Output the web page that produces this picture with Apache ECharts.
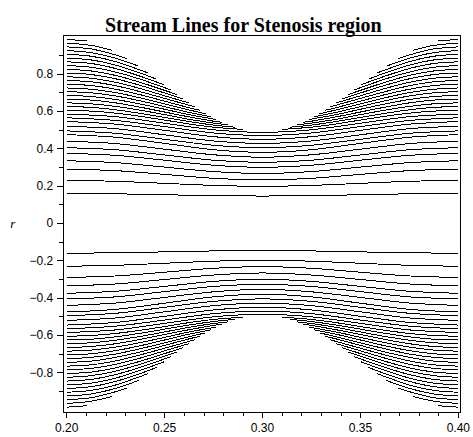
<!DOCTYPE html>
<html>
<head>
<meta charset="utf-8">
<script src="https://cdn.jsdelivr.net/npm/echarts@6/dist/echarts.min.js"></script>
<style>
  html, body { margin: 0; padding: 0; background: #fff; }
  #chart { width: 473px; height: 437px; }
  #chart svg path { shape-rendering: crispEdges; }
</style>
</head>
<body>
<div id="chart"></div>
<script>
// Axis ticks and labels
const zLabelTicks = [0.20, 0.25, 0.30, 0.35, 0.40];
const zMinorTicks = [0.21, 0.22, 0.23, 0.24, 0.26, 0.27, 0.28, 0.29, 0.31, 0.32, 0.33, 0.34, 0.36, 0.37, 0.38, 0.39];
const rLabelTicks = [-0.8, -0.6, -0.4, -0.2, 0, 0.2, 0.4, 0.6, 0.8];
const rMinorTicks = [-0.9, -0.7, -0.5, -0.3, -0.1, 0.1, 0.3, 0.5, 0.7, 0.9];

// Stream lines that run right through the throat: r at each z of zThrough
const zThrough = [0.200, 0.225, 0.250, 0.275, 0.300, 0.325, 0.350, 0.375, 0.400];
const upperThrough = [
  [0.160, 0.158, 0.153, 0.148, 0.146, 0.148, 0.153, 0.158, 0.160],
  [0.230, 0.225, 0.214, 0.203, 0.198, 0.203, 0.214, 0.225, 0.230],
  [0.290, 0.282, 0.262, 0.241, 0.233, 0.241, 0.262, 0.282, 0.290],
  [0.335, 0.325, 0.301, 0.277, 0.267, 0.277, 0.301, 0.325, 0.335],
  [0.375, 0.364, 0.338, 0.311, 0.300, 0.311, 0.338, 0.364, 0.375],
  [0.405, 0.394, 0.366, 0.338, 0.327, 0.338, 0.366, 0.394, 0.405],
  [0.440, 0.427, 0.397, 0.367, 0.354, 0.367, 0.397, 0.427, 0.440],
  [0.475, 0.461, 0.428, 0.394, 0.380, 0.394, 0.428, 0.461, 0.475],
  [0.495, 0.482, 0.450, 0.418, 0.405, 0.418, 0.450, 0.482, 0.495],
  [0.520, 0.507, 0.474, 0.441, 0.428, 0.441, 0.474, 0.507, 0.520],
  [0.545, 0.531, 0.498, 0.464, 0.450, 0.464, 0.498, 0.531, 0.545],
  [0.565, 0.551, 0.518, 0.484, 0.470, 0.484, 0.518, 0.551, 0.565],
  [0.585, 0.571, 0.536, 0.501, 0.487, 0.501, 0.536, 0.571, 0.585]
];
const lowerThrough = [
  [-0.160, -0.158, -0.153, -0.148, -0.144, -0.148, -0.153, -0.158, -0.160],
  [-0.230, -0.225, -0.214, -0.203, -0.197, -0.203, -0.214, -0.225, -0.230],
  [-0.290, -0.282, -0.262, -0.241, -0.232, -0.241, -0.262, -0.282, -0.290],
  [-0.335, -0.325, -0.301, -0.277, -0.266, -0.277, -0.301, -0.325, -0.335],
  [-0.375, -0.364, -0.338, -0.311, -0.300, -0.311, -0.338, -0.364, -0.375],
  [-0.405, -0.394, -0.366, -0.338, -0.327, -0.338, -0.366, -0.394, -0.405],
  [-0.440, -0.427, -0.397, -0.367, -0.354, -0.367, -0.397, -0.427, -0.440],
  [-0.475, -0.461, -0.428, -0.394, -0.380, -0.394, -0.428, -0.461, -0.475],
  [-0.495, -0.482, -0.450, -0.418, -0.405, -0.418, -0.450, -0.482, -0.495],
  [-0.520, -0.507, -0.474, -0.441, -0.428, -0.441, -0.474, -0.507, -0.520],
  [-0.545, -0.531, -0.498, -0.464, -0.450, -0.464, -0.498, -0.531, -0.545],
  [-0.565, -0.551, -0.518, -0.484, -0.470, -0.484, -0.518, -0.551, -0.565],
  [-0.585, -0.571, -0.536, -0.501, -0.487, -0.501, -0.536, -0.571, -0.585]
];

// Outer stream lines, cut off where they meet the constricted wall: [z, r] points
const upperLeft = [
  [[0.2, 0.605], [0.2125, 0.601], [0.225, 0.590], [0.2375, 0.573], [0.25, 0.553], [0.2625, 0.532], [0.275, 0.515], [0.2899, 0.503]],
  [[0.2, 0.625], [0.2125, 0.621], [0.225, 0.608], [0.2375, 0.589], [0.25, 0.567], [0.2625, 0.545], [0.275, 0.526], [0.2858, 0.515]],
  [[0.2, 0.645], [0.2125, 0.640], [0.225, 0.626], [0.2375, 0.606], [0.25, 0.582], [0.2625, 0.557], [0.275, 0.537], [0.2823, 0.528]],
  [[0.2, 0.665], [0.2125, 0.660], [0.225, 0.645], [0.2375, 0.622], [0.25, 0.596], [0.2625, 0.570], [0.275, 0.547], [0.2793, 0.541]],
  [[0.2, 0.685], [0.2125, 0.679], [0.225, 0.663], [0.2375, 0.639], [0.25, 0.611], [0.2625, 0.582], [0.2764, 0.556]],
  [[0.2, 0.705], [0.2125, 0.699], [0.225, 0.682], [0.2375, 0.656], [0.25, 0.625], [0.2625, 0.594], [0.2736, 0.571]],
  [[0.2, 0.725], [0.2125, 0.718], [0.225, 0.700], [0.2375, 0.672], [0.25, 0.640], [0.2625, 0.607], [0.2709, 0.587]],
  [[0.2, 0.745], [0.2125, 0.738], [0.225, 0.718], [0.2375, 0.689], [0.25, 0.654], [0.2625, 0.619], [0.2682, 0.605]],
  [[0.2, 0.765], [0.2125, 0.758], [0.225, 0.737], [0.2375, 0.705], [0.25, 0.669], [0.2654, 0.624]],
  [[0.2, 0.785], [0.2125, 0.777], [0.225, 0.755], [0.2375, 0.722], [0.25, 0.683], [0.2626, 0.644]],
  [[0.2, 0.805], [0.2125, 0.797], [0.225, 0.774], [0.2375, 0.739], [0.25, 0.698], [0.2596, 0.665]],
  [[0.2, 0.825], [0.2125, 0.816], [0.225, 0.792], [0.2375, 0.755], [0.25, 0.712], [0.2565, 0.689]],
  [[0.2, 0.845], [0.2125, 0.836], [0.225, 0.810], [0.2375, 0.772], [0.2533, 0.714]],
  [[0.2, 0.865], [0.2125, 0.856], [0.225, 0.829], [0.2375, 0.788], [0.2497, 0.742]],
  [[0.2, 0.885], [0.2125, 0.875], [0.225, 0.847], [0.2375, 0.805], [0.2459, 0.772]],
  [[0.2, 0.905], [0.2125, 0.895], [0.225, 0.866], [0.2416, 0.805]],
  [[0.2, 0.925], [0.2125, 0.914], [0.225, 0.884], [0.2367, 0.842]],
  [[0.2, 0.945], [0.2125, 0.934], [0.225, 0.902], [0.2308, 0.882]],
  [[0.2, 0.965], [0.2125, 0.953], [0.2232, 0.927]],
  [[0.2, 0.985], [0.2105, 0.977]]
];
const upperRight = [
  [[0.3101, 0.503], [0.325, 0.515], [0.3375, 0.532], [0.35, 0.553], [0.3625, 0.573], [0.375, 0.590], [0.3875, 0.601], [0.4, 0.605]],
  [[0.3142, 0.515], [0.325, 0.526], [0.3375, 0.545], [0.35, 0.567], [0.3625, 0.589], [0.375, 0.608], [0.3875, 0.621], [0.4, 0.625]],
  [[0.3177, 0.528], [0.325, 0.537], [0.3375, 0.557], [0.35, 0.582], [0.3625, 0.606], [0.375, 0.626], [0.3875, 0.640], [0.4, 0.645]],
  [[0.3207, 0.541], [0.325, 0.547], [0.3375, 0.570], [0.35, 0.596], [0.3625, 0.622], [0.375, 0.645], [0.3875, 0.660], [0.4, 0.665]],
  [[0.3236, 0.556], [0.3375, 0.582], [0.35, 0.611], [0.3625, 0.639], [0.375, 0.663], [0.3875, 0.679], [0.4, 0.685]],
  [[0.3264, 0.571], [0.3375, 0.594], [0.35, 0.625], [0.3625, 0.656], [0.375, 0.682], [0.3875, 0.699], [0.4, 0.705]],
  [[0.3291, 0.587], [0.3375, 0.607], [0.35, 0.640], [0.3625, 0.672], [0.375, 0.700], [0.3875, 0.718], [0.4, 0.725]],
  [[0.3318, 0.605], [0.3375, 0.619], [0.35, 0.654], [0.3625, 0.689], [0.375, 0.718], [0.3875, 0.738], [0.4, 0.745]],
  [[0.3346, 0.624], [0.35, 0.669], [0.3625, 0.705], [0.375, 0.737], [0.3875, 0.758], [0.4, 0.765]],
  [[0.3374, 0.644], [0.35, 0.683], [0.3625, 0.722], [0.375, 0.755], [0.3875, 0.777], [0.4, 0.785]],
  [[0.3404, 0.665], [0.35, 0.698], [0.3625, 0.739], [0.375, 0.774], [0.3875, 0.797], [0.4, 0.805]],
  [[0.3435, 0.689], [0.35, 0.712], [0.3625, 0.755], [0.375, 0.792], [0.3875, 0.816], [0.4, 0.825]],
  [[0.3467, 0.714], [0.3625, 0.772], [0.375, 0.810], [0.3875, 0.836], [0.4, 0.845]],
  [[0.3503, 0.742], [0.3625, 0.788], [0.375, 0.829], [0.3875, 0.856], [0.4, 0.865]],
  [[0.3541, 0.772], [0.3625, 0.805], [0.375, 0.847], [0.3875, 0.875], [0.4, 0.885]],
  [[0.3584, 0.805], [0.375, 0.866], [0.3875, 0.895], [0.4, 0.905]],
  [[0.3633, 0.842], [0.375, 0.884], [0.3875, 0.914], [0.4, 0.925]],
  [[0.3692, 0.882], [0.375, 0.902], [0.3875, 0.934], [0.4, 0.945]],
  [[0.3768, 0.927], [0.3875, 0.953], [0.4, 0.965]],
  [[0.3895, 0.977], [0.4, 0.985]]
];
const lowerLeft = [
  [[0.2, -0.605], [0.2125, -0.601], [0.225, -0.590], [0.2375, -0.573], [0.25, -0.553], [0.2625, -0.532], [0.275, -0.515], [0.2899, -0.503]],
  [[0.2, -0.625], [0.2125, -0.621], [0.225, -0.608], [0.2375, -0.589], [0.25, -0.567], [0.2625, -0.545], [0.275, -0.526], [0.2858, -0.515]],
  [[0.2, -0.645], [0.2125, -0.640], [0.225, -0.626], [0.2375, -0.606], [0.25, -0.582], [0.2625, -0.557], [0.275, -0.537], [0.2823, -0.528]],
  [[0.2, -0.665], [0.2125, -0.660], [0.225, -0.645], [0.2375, -0.622], [0.25, -0.596], [0.2625, -0.570], [0.275, -0.547], [0.2793, -0.541]],
  [[0.2, -0.685], [0.2125, -0.679], [0.225, -0.663], [0.2375, -0.639], [0.25, -0.611], [0.2625, -0.582], [0.2764, -0.556]],
  [[0.2, -0.705], [0.2125, -0.699], [0.225, -0.682], [0.2375, -0.656], [0.25, -0.625], [0.2625, -0.594], [0.2736, -0.571]],
  [[0.2, -0.725], [0.2125, -0.718], [0.225, -0.700], [0.2375, -0.672], [0.25, -0.640], [0.2625, -0.607], [0.2709, -0.587]],
  [[0.2, -0.745], [0.2125, -0.738], [0.225, -0.718], [0.2375, -0.689], [0.25, -0.654], [0.2625, -0.619], [0.2682, -0.605]],
  [[0.2, -0.765], [0.2125, -0.758], [0.225, -0.737], [0.2375, -0.705], [0.25, -0.669], [0.2654, -0.624]],
  [[0.2, -0.785], [0.2125, -0.777], [0.225, -0.755], [0.2375, -0.722], [0.25, -0.683], [0.2626, -0.644]],
  [[0.2, -0.805], [0.2125, -0.797], [0.225, -0.774], [0.2375, -0.739], [0.25, -0.698], [0.2596, -0.665]],
  [[0.2, -0.825], [0.2125, -0.816], [0.225, -0.792], [0.2375, -0.755], [0.25, -0.712], [0.2565, -0.689]],
  [[0.2, -0.845], [0.2125, -0.836], [0.225, -0.810], [0.2375, -0.772], [0.2533, -0.714]],
  [[0.2, -0.865], [0.2125, -0.856], [0.225, -0.829], [0.2375, -0.788], [0.2497, -0.742]],
  [[0.2, -0.885], [0.2125, -0.875], [0.225, -0.847], [0.2375, -0.805], [0.2459, -0.772]],
  [[0.2, -0.905], [0.2125, -0.895], [0.225, -0.866], [0.2416, -0.805]],
  [[0.2, -0.925], [0.2125, -0.914], [0.225, -0.884], [0.2367, -0.842]],
  [[0.2, -0.945], [0.2125, -0.934], [0.225, -0.902], [0.2308, -0.882]],
  [[0.2, -0.965], [0.2125, -0.953], [0.2232, -0.927]],
  [[0.2, -0.985], [0.2105, -0.977]]
];
const lowerRight = [
  [[0.3101, -0.503], [0.325, -0.515], [0.3375, -0.532], [0.35, -0.553], [0.3625, -0.573], [0.375, -0.590], [0.3875, -0.601], [0.4, -0.605]],
  [[0.3142, -0.515], [0.325, -0.526], [0.3375, -0.545], [0.35, -0.567], [0.3625, -0.589], [0.375, -0.608], [0.3875, -0.621], [0.4, -0.625]],
  [[0.3177, -0.528], [0.325, -0.537], [0.3375, -0.557], [0.35, -0.582], [0.3625, -0.606], [0.375, -0.626], [0.3875, -0.640], [0.4, -0.645]],
  [[0.3207, -0.541], [0.325, -0.547], [0.3375, -0.570], [0.35, -0.596], [0.3625, -0.622], [0.375, -0.645], [0.3875, -0.660], [0.4, -0.665]],
  [[0.3236, -0.556], [0.3375, -0.582], [0.35, -0.611], [0.3625, -0.639], [0.375, -0.663], [0.3875, -0.679], [0.4, -0.685]],
  [[0.3264, -0.571], [0.3375, -0.594], [0.35, -0.625], [0.3625, -0.656], [0.375, -0.682], [0.3875, -0.699], [0.4, -0.705]],
  [[0.3291, -0.587], [0.3375, -0.607], [0.35, -0.640], [0.3625, -0.672], [0.375, -0.700], [0.3875, -0.718], [0.4, -0.725]],
  [[0.3318, -0.605], [0.3375, -0.619], [0.35, -0.654], [0.3625, -0.689], [0.375, -0.718], [0.3875, -0.738], [0.4, -0.745]],
  [[0.3346, -0.624], [0.35, -0.669], [0.3625, -0.705], [0.375, -0.737], [0.3875, -0.758], [0.4, -0.765]],
  [[0.3374, -0.644], [0.35, -0.683], [0.3625, -0.722], [0.375, -0.755], [0.3875, -0.777], [0.4, -0.785]],
  [[0.3404, -0.665], [0.35, -0.698], [0.3625, -0.739], [0.375, -0.774], [0.3875, -0.797], [0.4, -0.805]],
  [[0.3435, -0.689], [0.35, -0.712], [0.3625, -0.755], [0.375, -0.792], [0.3875, -0.816], [0.4, -0.825]],
  [[0.3467, -0.714], [0.3625, -0.772], [0.375, -0.810], [0.3875, -0.836], [0.4, -0.845]],
  [[0.3503, -0.742], [0.3625, -0.788], [0.375, -0.829], [0.3875, -0.856], [0.4, -0.865]],
  [[0.3541, -0.772], [0.3625, -0.805], [0.375, -0.847], [0.3875, -0.875], [0.4, -0.885]],
  [[0.3584, -0.805], [0.375, -0.866], [0.3875, -0.895], [0.4, -0.905]],
  [[0.3633, -0.842], [0.375, -0.884], [0.3875, -0.914], [0.4, -0.925]],
  [[0.3692, -0.882], [0.375, -0.902], [0.3875, -0.934], [0.4, -0.945]],
  [[0.3768, -0.927], [0.3875, -0.953], [0.4, -0.965]],
  [[0.3895, -0.977], [0.4, -0.985]]
];

const Z_MIN = 0.19827, Z_MAX = 0.40102;
const R_MIN = -1.0107, R_MAX = 1.0086;

const fmtR = v => (v === 0 ? '0' : (v < 0 ? '\u2212' + Math.abs(v).toFixed(1) : v.toFixed(1)));

function streamSeries(points) {
  return {
    type: 'line',
    data: points,
    smooth: 0.3,
    showSymbol: false,
    symbol: 'none',
    silent: true,
    lineStyle: { color: '#000', width: 1 }
  };
}

const series = []
  .concat(upperThrough.map(rs => streamSeries(zThrough.map((z, i) => [z, rs[i]]))))
  .concat(lowerThrough.map(rs => streamSeries(zThrough.map((z, i) => [z, rs[i]]))))
  .concat(upperLeft.map(streamSeries))
  .concat(upperRight.map(streamSeries))
  .concat(lowerLeft.map(streamSeries))
  .concat(lowerRight.map(streamSeries));

const chart = echarts.init(document.getElementById('chart'), null, { renderer: 'svg' });
chart.setOption({
  animation: false,
  backgroundColor: '#fff',
  title: {
    text: 'Stream Lines for Stenosis region',
    left: 100,
    top: 10,
    textStyle: { fontFamily: 'Liberation Serif', fontWeight: 'bold', fontSize: 20, color: '#000' }
  },
  grid: { left: 63.3, right: 12, top: 35, bottom: 25, show: true, borderColor: '#000', borderWidth: 1, containLabel: false },
  xAxis: [
    {
      type: 'value', min: Z_MIN, max: Z_MAX, position: 'bottom',
      axisLine: { show: true, onZero: false, lineStyle: { color: '#000', width: 1 } },
      axisTick: { show: true, customValues: zLabelTicks, length: 6, lineStyle: { color: '#000' } },
      axisLabel: { show: true, customValues: zLabelTicks, formatter: v => v.toFixed(2), margin: 10,
        fontFamily: 'Liberation Sans', fontSize: 12, color: '#000' },
      splitLine: { show: false }
    },
    {
      type: 'value', min: Z_MIN, max: Z_MAX, position: 'bottom',
      axisLine: { show: false, onZero: false },
      axisTick: { show: true, customValues: zMinorTicks, length: 4, lineStyle: { color: '#000' } },
      axisLabel: { show: false },
      splitLine: { show: false }
    }
  ],
  yAxis: [
    {
      type: 'value', min: R_MIN, max: R_MAX, position: 'left',
      name: 'r', nameLocation: 'middle', nameRotate: 0, nameGap: 48,
      nameTextStyle: { fontFamily: 'Liberation Serif', fontStyle: 'italic', fontSize: 13, color: '#000' },
      axisLine: { show: true, onZero: false, lineStyle: { color: '#000', width: 1 } },
      axisTick: { show: true, customValues: rLabelTicks, length: 6, lineStyle: { color: '#000' } },
      axisLabel: { show: true, customValues: rLabelTicks, formatter: fmtR, margin: 10,
        fontFamily: 'Liberation Sans', fontSize: 12, color: '#000' },
      splitLine: { show: false }
    },
    {
      type: 'value', min: R_MIN, max: R_MAX, position: 'left',
      axisLine: { show: false, onZero: false },
      axisTick: { show: true, customValues: rMinorTicks, length: 4, lineStyle: { color: '#000' } },
      axisLabel: { show: false },
      splitLine: { show: false }
    }
  ],
  series: series
});
</script>
</body>
</html>
